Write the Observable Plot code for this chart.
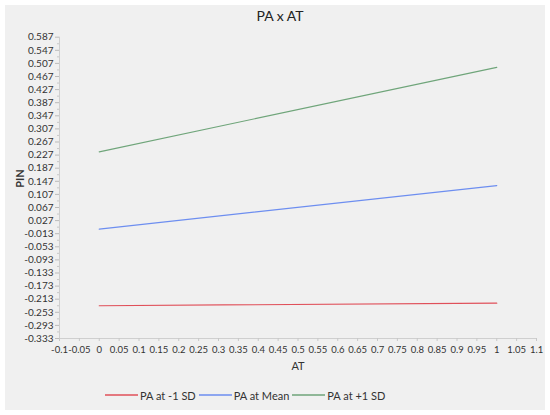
<!DOCTYPE html>
<html><head><meta charset="utf-8">
<script src="https://cdn.jsdelivr.net/npm/d3@7"></script>
<script src="https://cdn.jsdelivr.net/npm/@observablehq/plot@0.6"></script>
<style>
html,body{margin:0;padding:0;background:#fff;width:550px;height:415px;overflow:hidden;font-family:Lato,sans-serif;}
#bg{position:absolute;left:5px;top:5px;width:540px;height:405px;background:#f0f0f0;}
#title{position:absolute;left:0;top:7px;width:560px;text-align:center;font-size:14px;color:#222;}
#chart{position:absolute;left:0;top:25px;}
#legend{position:absolute;left:105px;top:387px;font-size:11px;color:#333;white-space:nowrap;}
#legend span{display:inline-flex;align-items:center;margin-right:3px;}
#legend svg{margin-right:2px;}
</style></head>
<body>
<div id="bg"></div>
<div id="title">PA x AT</div>
<div id="chart"></div>
<div id="legend"></div>
<script>
const series = ["PA at -1 SD", "PA at Mean", "PA at +1 SD"];
const colors = ["#e0505a", "#6d8ef0", "#6fa57a"];
const atValues = [0, 1];
const lowSD = [-0.233, -0.225];
const meanPA = [0.001, 0.134];
const highSD = [0.237, 0.495];
const yTickLabels = ["0.587","0.547","0.507","0.467","0.427","0.387","0.347","0.307","0.267","0.227","0.187","0.147","0.107","0.067","0.027","-0.013","-0.053","-0.093","-0.133","-0.173","-0.213","-0.253","-0.293","-0.333"];
const xTickLabels = ["-0.1","-0.05","0","0.05","0.1","0.15","0.2","0.25","0.3","0.35","0.4","0.45","0.5","0.55","0.6","0.65","0.7","0.75","0.8","0.85","0.9","0.95","1","1.05","1.1"];

const yTicks = yTickLabels.map(Number);
const xTicks = xTickLabels.map(Number);
const yMinor = yTicks.slice(0, -1).map(v => v - 0.02);

const rows = [];
[lowSD, meanPA, highSD].forEach((vals, i) => {
  atValues.forEach((x, j) => rows.push({series: series[i], x, y: vals[j]}));
});

const plot = Plot.plot({
  width: 550,
  height: 355,
  marginLeft: 59,
  marginRight: 14,
  marginTop: 11.7,
  marginBottom: 42,
  style: {background: "transparent", fontFamily: "Lato, sans-serif", fontSize: "10px", color: "#333"},
  x: {domain: [-0.1, 1.1], label: null},
  y: {domain: [-0.333, 0.587], label: null},
  color: {domain: series, range: colors},
  marks: [
    Plot.ruleX([-0.1], {stroke: "#cfcfcf"}),
    Plot.ruleY([-0.333], {stroke: "#cfcfcf"}),
    Plot.axisY({ticks: yMinor, tickFormat: () => "", tickSize: 2, stroke: "#c8c8c8"}),
    Plot.axisY({ticks: yTicks, tickFormat: (d, i) => yTickLabels[i], tickSize: 4, stroke: "#bbb", fill: "#333", tickPadding: 2, fontSize: 10}),
    Plot.axisX({ticks: xTicks, tickFormat: (d, i) => xTickLabels[i], tickSize: 3, tickPadding: 5, stroke: "#c8c8c8", fill: "#333", fontSize: 9.5}),
    Plot.line(rows, {x: "x", y: "y", z: "series", stroke: "series", strokeWidth: 1.2}),
    Plot.text(["AT"], {frameAnchor: "bottom", dy: 31, fontSize: 11, fill: "#333"}),
    Plot.text(["PIN"], {frameAnchor: "left", dx: -39, rotate: -90, fontSize: 11, fontWeight: "bold", fill: "#333"})
  ]
});
document.getElementById("chart").appendChild(plot);

const leg = document.getElementById("legend");
series.forEach((s, i) => {
  const sp = document.createElement("span");
  sp.innerHTML = `<svg width="33" height="6"><line x1="0" x2="33" y1="3" y2="3" stroke="${colors[i]}" stroke-width="1.4"/></svg>`;
  sp.appendChild(document.createTextNode(s));
  leg.appendChild(sp);
});
</script>
</body></html>
